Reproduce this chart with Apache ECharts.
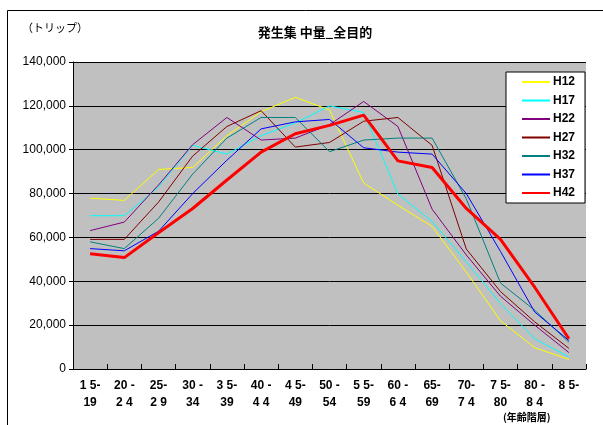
<!DOCTYPE html>
<html>
<head>
<meta charset="utf-8">
<script src="https://cdn.jsdelivr.net/npm/echarts@6/dist/echarts.min.js"></script>
<style>
  html, body { margin: 0; padding: 0; background: #fff; }
  #chart { width: 603px; height: 425px; }
</style>
</head>
<body>
<div id="chart"></div>
<script>
// Age groups (two-line labels)
const ageGroups = [
  '1 5-\n19', '20 -\n2 4', '25-\n2 9', '30 -\n34', '3 5-\n39',
  '40 -\n4 4', '4 5-\n49', '50 -\n54', '5 5-\n59', '60 -\n6 4',
  '65-\n69', '70-\n7 4', '7 5-\n80', '80 -\n8 4', '8 5-'
];

// Trips generated/attracted, all purposes, by survey year
const h12 = [77900, 76900, 91000, 91900, 106400, 117300, 123900, 118100, 84800, 74700, 65000, 44200, 22000, 9700, 4400];
const h17 = [69900, 69900, 83000, 102000, 98000, 106400, 112200, 120000, 117000, 79800, 67300, 48900, 29800, 13800, 5500];
const h22 = [63100, 67000, 83900, 102300, 114700, 104400, 105300, 111400, 122000, 110600, 72900, 52000, 33200, 20000, 7500];
const h27 = [59100, 59100, 76100, 97100, 110600, 117800, 101200, 103300, 113000, 114700, 102000, 54700, 35300, 21500, 9400];
const h32 = [58000, 54900, 68700, 88900, 105300, 114700, 114700, 99100, 104400, 105300, 105300, 77600, 39200, 26800, 12200];
const h37 = [54900, 53900, 62800, 80000, 95200, 109500, 112700, 113800, 100900, 98900, 98000, 80000, 53600, 26000, 13000];
const h42 = [52600, 50800, 62100, 73200, 86200, 98900, 107300, 111100, 115800, 94900, 91900, 73200, 59100, 37300, 13800];

const seriesDefs = [
  { name: 'H12', data: h12, color: '#ffff00', width: 1 },
  { name: 'H17', data: h17, color: '#00ffff', width: 1 },
  { name: 'H22', data: h22, color: '#800080', width: 1 },
  { name: 'H27', data: h27, color: '#800000', width: 1 },
  { name: 'H32', data: h32, color: '#008080', width: 1 },
  { name: 'H37', data: h37, color: '#0000ff', width: 1 },
  { name: 'H42', data: h42, color: '#ff0000', width: 3 }
];

const jpFont = '"Noto Sans CJK JP", sans-serif';
const numFont = '"Liberation Sans", Arial, sans-serif';

const chart = echarts.init(document.getElementById('chart'), null, { renderer: 'canvas' });

chart.setOption({
  backgroundColor: '#ffffff',
  animation: false,
  title: {
    text: '発生集 中量_全目的',
    left: 310,
    top: 21,
    textAlign: 'center',
    textStyle: { fontFamily: jpFont, fontSize: 13, fontWeight: 'bold', color: '#000' }
  },
  graphic: [
    {
      type: 'rect',
      shape: { x: 7.5, y: 10.5, width: 620, height: 440 },
      style: { fill: null, stroke: '#000', lineWidth: 1 },
      silent: true
    },
    {
      type: 'text',
      left: 22, top: 22,
      style: { text: '（トリップ）', font: '11px "Noto Sans CJK JP"', fill: '#000' }
    },
    {
      type: 'text',
      left: 503, top: 412,
      style: { text: '(年齢階層)', font: 'bold 10px "Noto Sans CJK JP"', fill: '#000' }
    }
  ],
  legend: {
    orient: 'vertical',
    left: 506,
    top: 72,
    width: 80,
    padding: [4, 10, 4, 16],
    itemGap: 6.5,
    itemWidth: 28,
    itemHeight: 2,
    icon: 'rect',
    backgroundColor: '#ffffff',
    borderColor: '#000',
    borderWidth: 1,
    textStyle: { fontFamily: numFont, fontSize: 12, fontWeight: 'bold', color: '#000', padding: [0, 0, 0, -2] },
    data: seriesDefs.map(s => ({ name: s.name, itemStyle: { color: s.color } }))
  },
  grid: {
    left: 73,
    top: 62,
    right: 17,
    bottom: 56,
    show: true,
    backgroundColor: '#c0c0c0',
    borderWidth: 0
  },
  xAxis: {
    type: 'category',
    data: ageGroups,
    boundaryGap: true,
    axisLine: { lineStyle: { color: '#000', width: 1 } },
    axisTick: { show: true, inside: true, length: 5, lineStyle: { color: '#000' } },
    axisLabel: {
      interval: 0,
      margin: 8,
      fontFamily: numFont,
      fontSize: 12,
      fontWeight: 'bold',
      color: '#000',
      lineHeight: 17
    }
  },
  yAxis: {
    type: 'value',
    min: 0,
    max: 140000,
    interval: 20000,
    axisLine: { show: true, lineStyle: { color: '#000', width: 1 } },
    axisTick: { show: true, length: 4, lineStyle: { color: '#000' } },
    splitLine: { show: true, lineStyle: { color: '#000', width: 1 } },
    axisLabel: {
      margin: 7,
      fontFamily: numFont,
      fontSize: 12,
      color: '#000',
      formatter: v => v.toLocaleString('en-US')
    }
  },
  series: seriesDefs.map(s => ({
    name: s.name,
    type: 'line',
    data: s.data,
    symbol: 'none',
    smooth: false,
    color: s.color,
    lineStyle: { color: s.color, width: s.width },
    z: s.name === 'H42' ? 5 : 2
  }))
});
</script>
</body>
</html>
